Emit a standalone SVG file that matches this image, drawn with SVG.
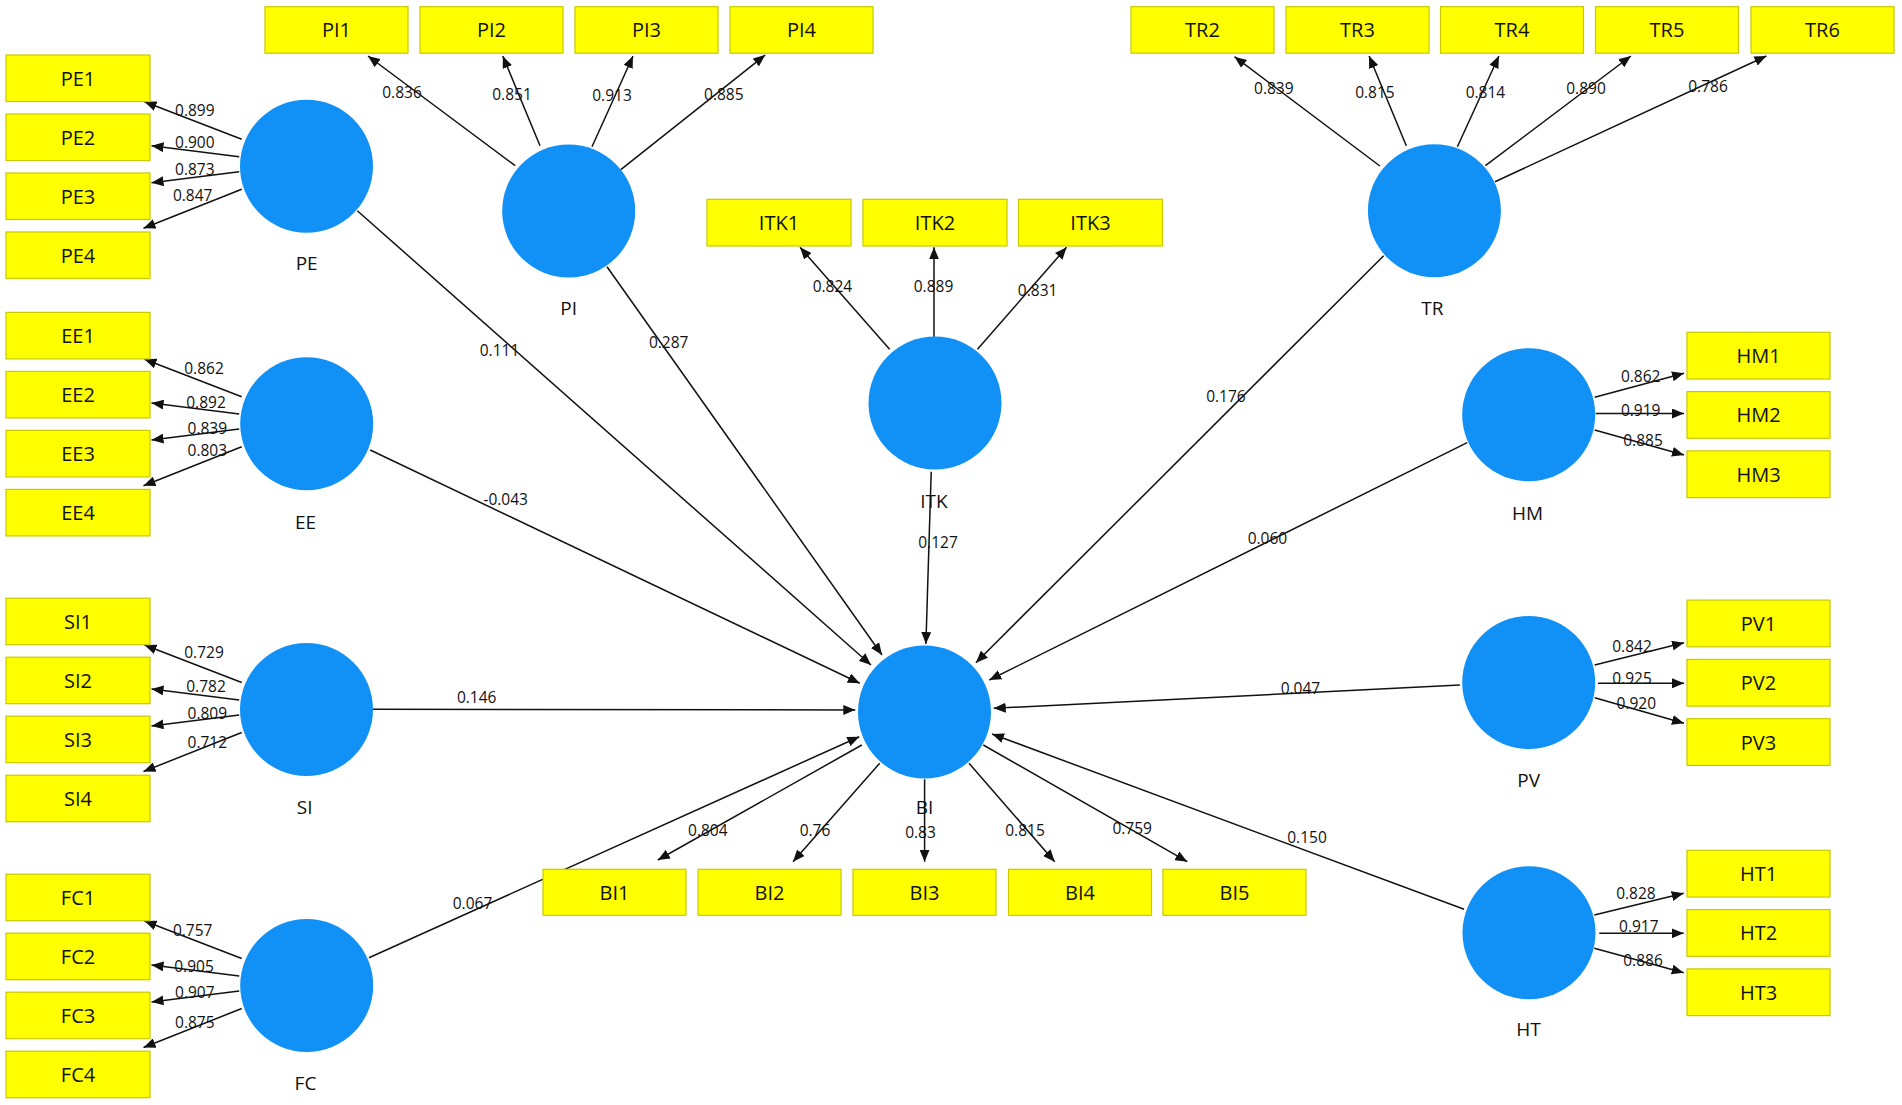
<svg xmlns="http://www.w3.org/2000/svg" width="1902" height="1105" viewBox="0 0 1902 1105">
<defs>
<style>
.box rect{fill:#FFFF00;stroke:#C9C900;stroke-width:1.2}
.box text{font-family:"Open Sans","Noto Sans","DejaVu Sans",sans-serif;font-size:20px;fill:#111;text-anchor:middle;dominant-baseline:central}
.lv circle{fill:#1191F5}
.lv text{font-family:"Open Sans","Noto Sans","DejaVu Sans",sans-serif;font-size:19px;fill:#111;text-anchor:middle;dominant-baseline:central}
.e line{stroke:#111;stroke-width:1.5;marker-end:url(#ah)}
.w text{font-family:"Open Sans","Noto Sans","DejaVu Sans",sans-serif;font-size:15.5px;fill:#111;text-anchor:middle;dominant-baseline:central}
</style>
<marker id="ah" viewBox="0 0 12 10" refX="12" refY="5" markerWidth="12" markerHeight="10" markerUnits="userSpaceOnUse" orient="auto"><path d="M0,0 L12,5 L0,10 z" fill="#111"/></marker>
</defs>
<rect width="1902" height="1105" fill="#fff"/>

<g id="connectors" class="e">
<!-- PE loadings -->
<line x1="241.7" y1="139.3" x2="144.5" y2="101.8"/>
<line x1="239.2" y1="156.7" x2="151.5" y2="145.7"/>
<line x1="239.2" y1="171.7" x2="151.5" y2="182.7"/>
<line x1="241.7" y1="189.3" x2="143.5" y2="228.3"/>
<!-- EE loadings -->
<line x1="241.7" y1="396.7" x2="144.5" y2="359.2"/>
<line x1="239.2" y1="414.1" x2="151.5" y2="403.1"/>
<line x1="239.2" y1="429.1" x2="151.5" y2="440.1"/>
<line x1="241.7" y1="446.7" x2="143.5" y2="485.7"/>
<!-- SI loadings -->
<line x1="241.7" y1="682.5" x2="144.5" y2="645"/>
<line x1="239.2" y1="699.9" x2="151.5" y2="688.9"/>
<line x1="239.2" y1="714.9" x2="151.5" y2="725.9"/>
<line x1="241.7" y1="732.5" x2="143.5" y2="771.5"/>
<!-- FC loadings -->
<line x1="241.7" y1="958.5" x2="144.5" y2="921"/>
<line x1="239.2" y1="975.9" x2="151.5" y2="964.9"/>
<line x1="239.2" y1="990.9" x2="151.5" y2="1001.9"/>
<line x1="241.7" y1="1008.5" x2="143.5" y2="1047.5"/>
<!-- PI loadings -->
<line x1="515.2" y1="165.7" x2="368" y2="56"/>
<line x1="540" y1="145.7" x2="502.8" y2="56"/>
<line x1="592" y1="146.7" x2="633" y2="56"/>
<line x1="620.8" y1="169.7" x2="765.2" y2="55"/>
<!-- TR loadings -->
<line x1="1379.9" y1="166" x2="1234.5" y2="56.7"/>
<line x1="1406.3" y1="145.7" x2="1369.1" y2="56"/>
<line x1="1457.4" y1="146.7" x2="1498.9" y2="56"/>
<line x1="1485.4" y1="165.7" x2="1630.9" y2="56"/>
<line x1="1495" y1="181.7" x2="1766.4" y2="56"/>
<!-- ITK loadings -->
<line x1="889.6" y1="349.3" x2="800" y2="247.3"/>
<line x1="934" y1="337" x2="934" y2="247.3"/>
<line x1="977.5" y1="349.3" x2="1066.6" y2="247.3"/>
<!-- HM loadings -->
<line x1="1594.7" y1="397.3" x2="1684" y2="373.3"/>
<line x1="1595.7" y1="413.5" x2="1684" y2="413.5"/>
<line x1="1594.7" y1="430" x2="1684" y2="455"/>
<!-- PV loadings -->
<line x1="1594.7" y1="665" x2="1684" y2="642.7"/>
<line x1="1598" y1="683.3" x2="1684" y2="683.3"/>
<line x1="1594.7" y1="697.7" x2="1684" y2="723.3"/>
<!-- HT loadings -->
<line x1="1594.3" y1="915" x2="1683.7" y2="893.3"/>
<line x1="1599.3" y1="933.3" x2="1683.7" y2="933.3"/>
<line x1="1594.3" y1="948.3" x2="1683.7" y2="972.7"/>
<!-- BI loadings -->
<line x1="861.8" y1="745" x2="657.8" y2="860"/>
<line x1="879.7" y1="763.3" x2="793" y2="861.7"/>
<line x1="924.6" y1="779.3" x2="924.6" y2="861.7"/>
<line x1="969" y1="763.3" x2="1054.7" y2="861.7"/>
<line x1="983.3" y1="745" x2="1187.3" y2="861.7"/>
<!-- structural paths -->
<line x1="357.3" y1="210.7" x2="871" y2="665"/>
<line x1="607" y1="266.7" x2="882" y2="655"/>
<line x1="370.2" y1="450" x2="859.8" y2="683.3"/>
<line x1="373" y1="709.3" x2="855.3" y2="710"/>
<line x1="369" y1="957.7" x2="859.3" y2="736.7"/>
<line x1="931.2" y1="471.7" x2="925.9" y2="644"/>
<line x1="1383.7" y1="255.7" x2="975.9" y2="662.7"/>
<line x1="1467.2" y1="442.7" x2="989.3" y2="680"/>
<line x1="1459.9" y1="685" x2="993.7" y2="708.3"/>
<line x1="1464.1" y1="909.3" x2="992" y2="734"/>
</g>

<g id="connector-labels" class="w">
<text x="194.8" y="110">0.899</text>
<text x="194.8" y="142.3">0.900</text>
<text x="194.8" y="169.3">0.873</text>
<text x="192.7" y="195">0.847</text>
<text x="204" y="368.3">0.862</text>
<text x="206" y="401.7">0.892</text>
<text x="207.3" y="427.7">0.839</text>
<text x="207.3" y="450">0.803</text>
<text x="204" y="651.7">0.729</text>
<text x="206" y="685.7">0.782</text>
<text x="207.3" y="712.7">0.809</text>
<text x="207.3" y="741.7">0.712</text>
<text x="192.7" y="930">0.757</text>
<text x="194" y="966">0.905</text>
<text x="194.8" y="991.7">0.907</text>
<text x="194.8" y="1021.7">0.875</text>
<text x="402" y="92.3">0.836</text>
<text x="512" y="94">0.851</text>
<text x="612" y="95">0.913</text>
<text x="723.8" y="94">0.885</text>
<text x="1273.8" y="88.3">0.839</text>
<text x="1374.9" y="92.3">0.815</text>
<text x="1485.4" y="92.3">0.814</text>
<text x="1586" y="88.3">0.890</text>
<text x="1708" y="86">0.786</text>
<text x="832.4" y="286">0.824</text>
<text x="933.5" y="286">0.889</text>
<text x="1037.6" y="290">0.831</text>
<text x="1640.7" y="376">0.862</text>
<text x="1640.7" y="410">0.919</text>
<text x="1643" y="440">0.885</text>
<text x="1632" y="646">0.842</text>
<text x="1632" y="677.7">0.925</text>
<text x="1636.3" y="703.3">0.920</text>
<text x="1635.9" y="892.7">0.828</text>
<text x="1638.8" y="926">0.917</text>
<text x="1643" y="960">0.886</text>
<text x="707.8" y="830">0.804</text>
<text x="815" y="830">0.76</text>
<text x="920.5" y="832">0.83</text>
<text x="1025" y="830">0.815</text>
<text x="1132.2" y="828.3">0.759</text>
<text x="499.5" y="350">0.111</text>
<text x="668.7" y="341.7">0.287</text>
<text x="505.7" y="499.3">-0.043</text>
<text x="476.7" y="696.7">0.146</text>
<text x="472.5" y="903.3">0.067</text>
<text x="938" y="541.7">0.127</text>
<text x="1225.9" y="396">0.176</text>
<text x="1267.4" y="538.3">0.060</text>
<text x="1300.4" y="688.3">0.047</text>
<text x="1307" y="837">0.150</text>
</g>

<!-- latent variables -->
<g id="PE" class="lv"><circle cx="306.5" cy="166.3" r="66.5"/><text x="306.7" y="263.3">PE</text></g>
<g id="PI" class="lv"><circle cx="568.7" cy="211" r="66.5"/><text x="568.7" y="308">PI</text></g>
<g id="ITK" class="lv"><circle cx="935" cy="403" r="66.5"/><text x="934" y="501">ITK</text></g>
<g id="TR" class="lv"><circle cx="1434.4" cy="210.8" r="66.5"/><text x="1432.4" y="308.3">TR</text></g>
<g id="EE" class="lv"><circle cx="306.7" cy="423.7" r="66.5"/><text x="305.5" y="521.7">EE</text></g>
<g id="HM" class="lv"><circle cx="1528.7" cy="414.7" r="66.5"/><text x="1527.5" y="512.7">HM</text></g>
<g id="SI" class="lv"><circle cx="306.5" cy="709.5" r="66.5"/><text x="304.7" y="807.3">SI</text></g>
<g id="BI" class="lv"><circle cx="924.5" cy="712" r="66.5"/><text x="924.6" y="807" font-size="18">BI</text></g>
<g id="PV" class="lv"><circle cx="1528.7" cy="682.5" r="66.5"/><text x="1528.7" y="779.5">PV</text></g>
<g id="FC" class="lv"><circle cx="306.7" cy="985.5" r="66.5"/><text x="305.5" y="1082.7">FC</text></g>
<g id="HT" class="lv"><circle cx="1529" cy="932.7" r="66.5"/><text x="1528.6" y="1029.3">HT</text></g>

<!-- indicators -->
<g id="PE1" class="box"><rect x="6" y="55" width="144" height="46.5"/><text x="78" y="78.2">PE1</text></g>
<g id="PE2" class="box"><rect x="6" y="114" width="144" height="46.5"/><text x="78" y="137.2">PE2</text></g>
<g id="PE3" class="box"><rect x="6" y="173" width="144" height="46.5"/><text x="78" y="196.2">PE3</text></g>
<g id="PE4" class="box"><rect x="6" y="232" width="144" height="46.5"/><text x="78" y="255.2">PE4</text></g>
<g id="EE1" class="box"><rect x="6" y="312.4" width="144" height="46.5"/><text x="78" y="335.6">EE1</text></g>
<g id="EE2" class="box"><rect x="6" y="371.4" width="144" height="46.5"/><text x="78" y="394.6">EE2</text></g>
<g id="EE3" class="box"><rect x="6" y="430.4" width="144" height="46.5"/><text x="78" y="453.6">EE3</text></g>
<g id="EE4" class="box"><rect x="6" y="489.4" width="144" height="46.5"/><text x="78" y="512.6">EE4</text></g>
<g id="SI1" class="box"><rect x="6" y="598.2" width="144" height="46.5"/><text x="78" y="621.4">SI1</text></g>
<g id="SI2" class="box"><rect x="6" y="657.2" width="144" height="46.5"/><text x="78" y="680.4">SI2</text></g>
<g id="SI3" class="box"><rect x="6" y="716.2" width="144" height="46.5"/><text x="78" y="739.4">SI3</text></g>
<g id="SI4" class="box"><rect x="6" y="775.2" width="144" height="46.5"/><text x="78" y="798.4">SI4</text></g>
<g id="FC1" class="box"><rect x="6" y="874.2" width="144" height="46.5"/><text x="78" y="897.4">FC1</text></g>
<g id="FC2" class="box"><rect x="6" y="933.2" width="144" height="46.5"/><text x="78" y="956.4">FC2</text></g>
<g id="FC3" class="box"><rect x="6" y="992.2" width="144" height="46.5"/><text x="78" y="1015.4">FC3</text></g>
<g id="FC4" class="box"><rect x="6" y="1051.2" width="144" height="46.5"/><text x="78" y="1074.4">FC4</text></g>

<g id="PI1" class="box"><rect x="265" y="6.7" width="143" height="46.5"/><text x="336.5" y="29.9">PI1</text></g>
<g id="PI2" class="box"><rect x="420" y="6.7" width="143" height="46.5"/><text x="491.5" y="29.9">PI2</text></g>
<g id="PI3" class="box"><rect x="575" y="6.7" width="143" height="46.5"/><text x="646.5" y="29.9">PI3</text></g>
<g id="PI4" class="box"><rect x="730" y="6.7" width="143" height="46.5"/><text x="801.5" y="29.9">PI4</text></g>

<g id="TR2" class="box"><rect x="1131" y="6.7" width="143" height="46.5"/><text x="1202.5" y="29.9">TR2</text></g>
<g id="TR3" class="box"><rect x="1286" y="6.7" width="143" height="46.5"/><text x="1357.5" y="29.9">TR3</text></g>
<g id="TR4" class="box"><rect x="1440.5" y="6.7" width="143" height="46.5"/><text x="1512" y="29.9">TR4</text></g>
<g id="TR5" class="box"><rect x="1595.5" y="6.7" width="143" height="46.5"/><text x="1667" y="29.9">TR5</text></g>
<g id="TR6" class="box"><rect x="1751" y="6.7" width="143" height="46.5"/><text x="1822.5" y="29.9">TR6</text></g>

<g id="ITK1" class="box"><rect x="707" y="199.3" width="144" height="46.7"/><text x="779" y="222.6">ITK1</text></g>
<g id="ITK2" class="box"><rect x="863" y="199.3" width="144" height="46.7"/><text x="935" y="222.6">ITK2</text></g>
<g id="ITK3" class="box"><rect x="1018.5" y="199.3" width="144" height="46.7"/><text x="1090.5" y="222.6">ITK3</text></g>

<g id="HM1" class="box"><rect x="1687" y="332.3" width="143" height="46.7"/><text x="1758.5" y="355.6">HM1</text></g>
<g id="HM2" class="box"><rect x="1687" y="391.6" width="143" height="46.7"/><text x="1758.5" y="414.9">HM2</text></g>
<g id="HM3" class="box"><rect x="1687" y="450.9" width="143" height="46.7"/><text x="1758.5" y="474.2">HM3</text></g>
<g id="PV1" class="box"><rect x="1687" y="600.1" width="143" height="46.7"/><text x="1758.5" y="623.4">PV1</text></g>
<g id="PV2" class="box"><rect x="1687" y="659.4" width="143" height="46.7"/><text x="1758.5" y="682.7">PV2</text></g>
<g id="PV3" class="box"><rect x="1687" y="718.7" width="143" height="46.7"/><text x="1758.5" y="742">PV3</text></g>
<g id="HT1" class="box"><rect x="1687" y="850.3" width="143" height="46.7"/><text x="1758.5" y="873.6">HT1</text></g>
<g id="HT2" class="box"><rect x="1687" y="909.6" width="143" height="46.7"/><text x="1758.5" y="932.9">HT2</text></g>
<g id="HT3" class="box"><rect x="1687" y="968.9" width="143" height="46.7"/><text x="1758.5" y="992.2">HT3</text></g>

<g id="BI1" class="box"><rect x="543" y="869.3" width="143" height="46"/><text x="614.5" y="892.3">BI1</text></g>
<g id="BI2" class="box"><rect x="698" y="869.3" width="143" height="46"/><text x="769.5" y="892.3">BI2</text></g>
<g id="BI3" class="box"><rect x="853" y="869.3" width="143" height="46"/><text x="924.5" y="892.3">BI3</text></g>
<g id="BI4" class="box"><rect x="1008.5" y="869.3" width="143" height="46"/><text x="1080" y="892.3">BI4</text></g>
<g id="BI5" class="box"><rect x="1163" y="869.3" width="143" height="46"/><text x="1234.5" y="892.3">BI5</text></g>
</svg>
